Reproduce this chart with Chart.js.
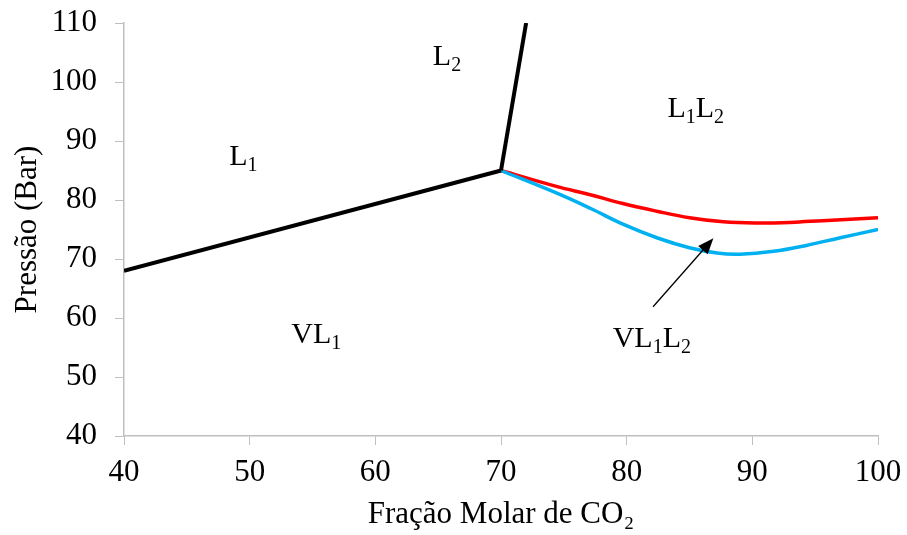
<!DOCTYPE html>
<html>
<head>
<meta charset="utf-8">
<script src="https://cdn.jsdelivr.net/npm/chart.js@4/dist/chart.umd.min.js"></script>
<style>
  html, body { margin: 0; padding: 0; background: #fff; }
  #wrap { width: 907px; height: 535px; }
</style>
</head>
<body>
<div id="wrap"><canvas id="phaseChart"></canvas></div>
<script>
// phase boundaries (x = fração molar CO2, y = pressão bar)
const l1Border = [[40, 68], [70, 85]];
const l2Border = [[70, 85], [72, 110]];
const redCurve = [[70, 85], [74.4, 82.3], [77.1, 80.9], [79.7, 79.4], [82.4, 78.1], [85.0, 77.0],
                  [87.7, 76.3], [90.3, 76.1], [93.0, 76.2], [95.6, 76.5], [100, 77.0]];
const blueCurve = [[70, 85], [74.4, 81.2], [77.1, 78.6], [79.7, 75.9], [82.4, 73.6], [85.0, 71.9],
                   [87.2, 71.0], [89.0, 70.8], [91.7, 71.3], [94.3, 72.3], [97.0, 73.6], [100, 75.0]];
const xTicks = [40, 50, 60, 70, 80, 90, 100];
const yTicks = [40, 50, 60, 70, 80, 90, 100, 110];

// region labels: (main, subscript) pairs, centred at x, baseline at y
const regionLabels = [
    { parts: [['L', '1']], x: 49.5, y: 85.9 },
    { parts: [['L', '2']], x: 65.7, y: 102.9 },
    { parts: [['L', '1'], ['L', '2']], x: 85.5, y: 94.1 },
    { parts: [['VL', '1']], x: 55.3, y: 55.7 },
    { parts: [['VL', '1'], ['L', '2']], x: 82.0, y: 55.1 }
];
const arrowFrom = [82.1, 61.9];
const arrowTo = [86.9, 73.5];

const toPts = arr => arr.map(p => ({ x: p[0], y: p[1] }));
const serif = '"Liberation Serif", "Times New Roman", serif';

const annotations = {
    id: 'annotations',
    afterDatasetsDraw(chart) {
        const { ctx, scales: { x, y } } = chart;
        ctx.save();
        ctx.fillStyle = '#000';
        ctx.textBaseline = 'alphabetic';
        const big = '30px ' + serif, small = '20px ' + serif;
        regionLabels.forEach(lab => {
            let w = 0;
            lab.parts.forEach(([m, s]) => {
                ctx.font = big; w += ctx.measureText(m).width;
                ctx.font = small; w += ctx.measureText(s).width;
            });
            let px = x.getPixelForValue(lab.x) - w / 2;
            const py = y.getPixelForValue(lab.y);
            lab.parts.forEach(([m, s]) => {
                ctx.font = big; ctx.fillText(m, px, py); px += ctx.measureText(m).width;
                ctx.font = small; ctx.fillText(s, px, py + 6); px += ctx.measureText(s).width;
            });
        });
        // arrow
        const x0 = x.getPixelForValue(arrowFrom[0]), y0 = y.getPixelForValue(arrowFrom[1]);
        const x1 = x.getPixelForValue(arrowTo[0]), y1 = y.getPixelForValue(arrowTo[1]);
        const ang = Math.atan2(y1 - y0, x1 - x0);
        const head = 17;
        ctx.strokeStyle = '#000';
        ctx.lineWidth = 1.3;
        ctx.beginPath();
        ctx.moveTo(x0, y0);
        ctx.lineTo(x1 - head * 0.8 * Math.cos(ang), y1 - head * 0.8 * Math.sin(ang));
        ctx.stroke();
        ctx.beginPath();
        ctx.moveTo(x1, y1);
        ctx.lineTo(x1 - head * Math.cos(ang - 0.38), y1 - head * Math.sin(ang - 0.38));
        ctx.lineTo(x1 - head * Math.cos(ang + 0.38), y1 - head * Math.sin(ang + 0.38));
        ctx.closePath();
        ctx.fill();
        ctx.restore();
    }
};

const ctx = document.getElementById('phaseChart');

new Chart(ctx, {
    type: 'scatter',
    data: {
        datasets: [
            { data: toPts(l1Border), showLine: true, borderColor: '#000', borderWidth: 4, pointRadius: 0, tension: 0 },
            { data: toPts(l2Border), showLine: true, borderColor: '#000', borderWidth: 4, pointRadius: 0, tension: 0 },
            { data: toPts(blueCurve), showLine: true, borderColor: '#00B0F0', borderWidth: 3.5, pointRadius: 0, tension: 0.4 },
            { data: toPts(redCurve), showLine: true, borderColor: '#FF0000', borderWidth: 3.5, pointRadius: 0, tension: 0.4 }
        ]
    },
    options: {
        responsive: true,
        maintainAspectRatio: false,
        animation: false,
        layout: { padding: { top: 23, right: 29, left: 0, bottom: 0 } },
        plugins: {
            legend: { display: false },
            tooltip: { enabled: false }
        },
        scales: {
            x: {
                type: 'linear',
                min: 40,
                max: 100,
                afterBuildTicks: s => { s.ticks = xTicks.map(v => ({ value: v })); },
                afterFit: s => { s.height = 99; s.paddingLeft = 0; s.paddingRight = 0; },
                grid: { drawOnChartArea: false, color: '#BFBFBF', tickLength: 9, lineWidth: 1 },
                border: { color: '#BFBFBF', width: 1.5 },
                ticks: { color: '#000', font: { family: serif, size: 31 }, padding: 9, maxRotation: 0 },
                title: { display: true, text: 'Fração Molar de CO₂', color: '#000', font: { family: serif, size: 31 }, padding: { top: 0, bottom: 2 } }
            },
            y: {
                type: 'linear',
                min: 40,
                max: 110,
                afterBuildTicks: s => { s.ticks = yTicks.map(v => ({ value: v })); },
                afterFit: s => { s.width = 124; s.paddingTop = 0; s.paddingBottom = 0; },
                grid: { drawOnChartArea: false, color: '#BFBFBF', tickLength: 9, lineWidth: 1 },
                border: { color: '#BFBFBF', width: 1.5 },
                ticks: { color: '#000', font: { family: serif, size: 31 }, padding: 18 },
                title: { display: true, text: 'Pressão (Bar)', color: '#000', font: { family: serif, size: 31 }, padding: { top: 9, bottom: 0 } }
            }
        }
    },
    plugins: [annotations]
});
</script>
</body>
</html>
